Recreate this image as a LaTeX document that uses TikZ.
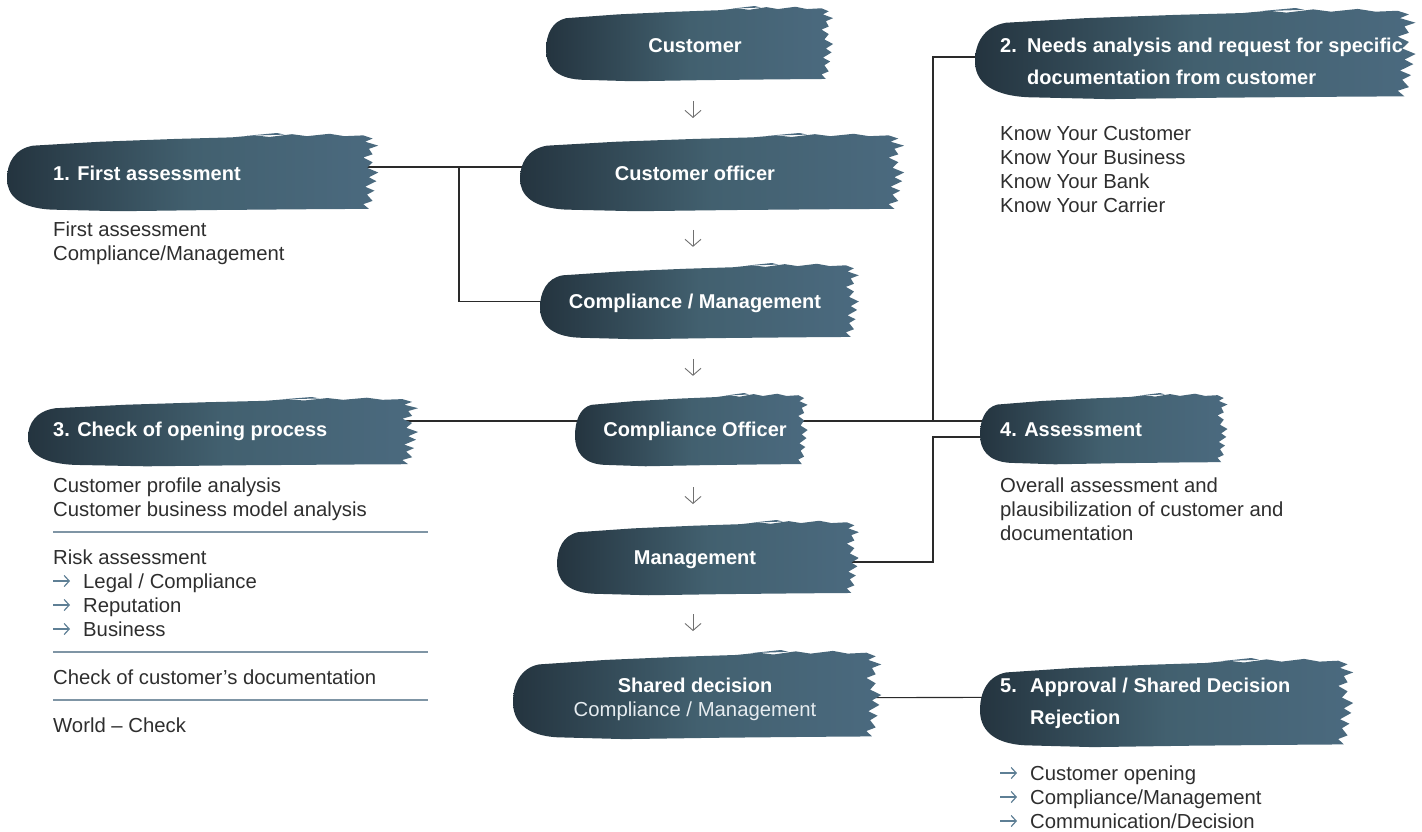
\documentclass[tikz,border=0pt]{standalone}
\usepackage{fontspec}
\setmainfont{Liberation Sans}
\usetikzlibrary{arrows.meta,calc,fit,backgrounds}
\definecolor{bdark}{HTML}{24343F}
\definecolor{bmid}{HTML}{42606F}
\definecolor{blight}{HTML}{4B6A7F}
\definecolor{bodycol}{HTML}{2E2E2E}
\definecolor{rulecol}{HTML}{7F95A5}
\definecolor{bulletcol}{HTML}{5E7F95}
\definecolor{conncol}{HTML}{2A2A2A}
\definecolor{arrcol}{HTML}{707070}
\definecolor{subcol}{HTML}{E6ECF0}
\newcommand\brushpath{(0.07,0.16) -- (0.25,0.11) -- (0.45,0.075) -- (0.60,0.055) -- (0.66,0.03) -- (0.70,0.05) -- (0.76,0.015) -- (0.80,0.04) -- (0.86,0.01) -- (0.90,0.04) -- (0.95,0.03) -- (0.975,0.07) -- (0.955,0.11) -- (0.99,0.16) -- (0.965,0.2) -- (0.975,0.27) -- (0.95,0.31) -- (0.975,0.37) -- (0.96,0.44) -- (0.99,0.5) -- (0.965,0.56) -- (0.985,0.61) -- (0.955,0.68) -- (0.98,0.73) -- (0.96,0.78) -- (0.975,0.86) -- (0.95,0.9) -- (0.965,0.96) -- (0.80,0.965) -- (0.55,0.975) -- (0.30,0.99) -- (0.12,0.97) .. controls (0.03,0.95) and (0.0,0.78) .. (0.0,0.58) .. controls (0.0,0.38) and (0.02,0.2) .. cycle}
\newcommand\brush[5]{%
  \begin{scope}[shift={(#2,#3)}, xscale={#4-#2}, yscale={#5-#3}]
    \shade[left color=bdark, right color=blight, middle color=bmid] \brushpath;
    \fill[blight] (0.64,0.035) -- (0.72,0.0) -- (0.74,0.02) -- cycle;
  \end{scope}
  \node[fit={(#2,#3) (#4,#5)}, inner sep=0pt] (#1) {};
}
\begin{document}
\begin{tikzpicture}[x=1pt,y=-1pt,
  title/.style={text=white, font=\fontsize{20}{24}\selectfont\bfseries, inner sep=0pt},
  ctitle/.style={title, anchor=base},
  ltitle/.style={title, anchor=base west},
  body/.style={text=bodycol, font=\fontsize{20.3}{24}\selectfont, inner sep=0pt, anchor=base west},
  barr/.style={draw=bulletcol, line width=1.2pt, -{Straight Barb[length=5pt,width=11pt]}},
  sep/.style={draw=rulecol, line width=1.5pt},
  conn/.style={draw=conncol, line width=1.1pt},
  darr/.style={draw=arrcol, line width=0.9pt, -{Straight Barb[length=7pt,width=16pt]}}]
\useasboundingbox (0,0) rectangle (1422,831);

% brush shapes
\brush{bc}{546}{6}{836}{82}
\brush{bco}{520}{133}{908}{212}
\brush{bcm}{540}{263}{862}{340}
\brush{bcof}{575}{393}{810}{467}
\brush{bm}{557}{520}{862}{596}
\brush{bsd}{513}{650}{885}{740}
\brush{bone}{7}{133}{382}{212}
\brush{btwo}{975}{8}{1420}{100}
\brush{bthree}{28}{397}{422}{467}
\brush{bfour}{980}{393}{1230}{465}
\brush{bfive}{980}{658}{1357}{748}

% central titles
\node[ctitle] (tc) at (695,52) {Customer};
\node[ctitle] (tco) at (695,180) {Customer officer};
\node[ctitle] (tcm) at (695,308) {Compliance / Management};
\node[ctitle] (tcof) at (695,436) {Compliance Officer};
\node[ctitle] (tm) at (695,564) {Management};
\node[ctitle] (tsd) at (695,692) {Shared decision};
\node[anchor=base, inner sep=0pt, text=subcol, font=\fontsize{20.3}{24}\selectfont] (tsd2) at (695,716) {Compliance / Management};

% side titles
\node[ltitle] (t1) at (53,180) {1. First assessment};
\node[ltitle] (t2n) at (1000,52) {2.};
\node[ltitle] (t2a) at (1027,52) {Needs analysis and request for specific};
\node[ltitle] (t2b) at (1027,84) {documentation from customer};
\node[ltitle] (t3) at (53,436) {3. Check of opening process};
\node[ltitle] (t4) at (1000,436) {4. Assessment};
\node[ltitle] (t5n) at (1000,692) {5.};
\node[ltitle] (t5a) at (1030,692) {Approval / Shared Decision};
\node[ltitle] (t5b) at (1030,724) {Rejection};

% body texts
\node[body] (l1a) at (53,236) {First assessment};
\node[body] (l1b) at (53,260) {Compliance/Management};

\node[body] (l2a) at (1000,140) {Know Your Customer};
\node[body] (l2b) at (1000,164) {Know Your Business};
\node[body] (l2c) at (1000,188) {Know Your Bank};
\node[body] (l2d) at (1000,212) {Know Your Carrier};

\node[body] (l3a) at (53,492) {Customer profile analysis};
\node[body] (l3b) at (53,516) {Customer business model analysis};
\draw[sep] (53,532) -- (428,532);
\node[body] (l3c) at (53,564) {Risk assessment};
\node[body] (l3d) at (83,588) {Legal / Compliance};
\node[body] (l3e) at (83,612) {Reputation};
\node[body] (l3f) at (83,636) {Business};
\foreach \t in {l3d,l3e,l3f} {
  \draw[barr] ([xshift=-30pt,yshift=7pt]\t.base west) -- ([xshift=-13pt,yshift=7pt]\t.base west);
}
\draw[sep] (53,652) -- (428,652);
\node[body] (l3g) at (53,684) {Check of customer’s documentation};
\draw[sep] (53,700) -- (428,700);
\node[body] (l3h) at (53,732) {World – Check};

\node[body] (l4a) at (1000,492) {Overall assessment and};
\node[body] (l4b) at (1000,516) {plausibilization of customer and};
\node[body] (l4c) at (1000,540) {documentation};

\node[body] (l5a) at (1030,780) {Customer opening};
\node[body] (l5b) at (1030,804) {Compliance/Management};
\node[body] (l5c) at (1030,828) {Communication/Decision};
\foreach \t in {l5a,l5b,l5c} {
  \draw[barr] ([xshift=-30pt,yshift=7pt]\t.base west) -- ([xshift=-13pt,yshift=7pt]\t.base west);
}

% down arrows
\foreach \a/\b in {tc/tco, tco/tcm, tcm/tcof, tcof/tm, tm/tsd} {
  \draw[darr] ($(\a.center)!0.5!(\b.center)+(-2,-8)$) -- ($(\a.center)!0.5!(\b.center)+(-2,9)$);
}

% connectors
\coordinate (j1) at (459,167);
\coordinate (j2) at (933,421);
\coordinate (j3) at (933,437);
\begin{pgfonlayer}{background}
\draw[conn] (bone.center |- j1) -- (bco.center |- j1);
\draw[conn] (j1) |- (bcm.center);
\draw[conn] (bthree.center |- j2) -- (bcof.center |- j2);
\draw[conn] (bcof.center |- j2) -- (bfour.center |- j2);
\draw[conn] (j2) |- ([yshift=-3pt]btwo.center);
\draw[conn] ([yshift=-4pt]bm.center) -| (j3) -- (bfour.center |- j3);
\draw[conn] ([yshift=-3pt]bsd.center) -- ([yshift=6pt]bfive.center);
\end{pgfonlayer}
\end{tikzpicture}
\end{document}
